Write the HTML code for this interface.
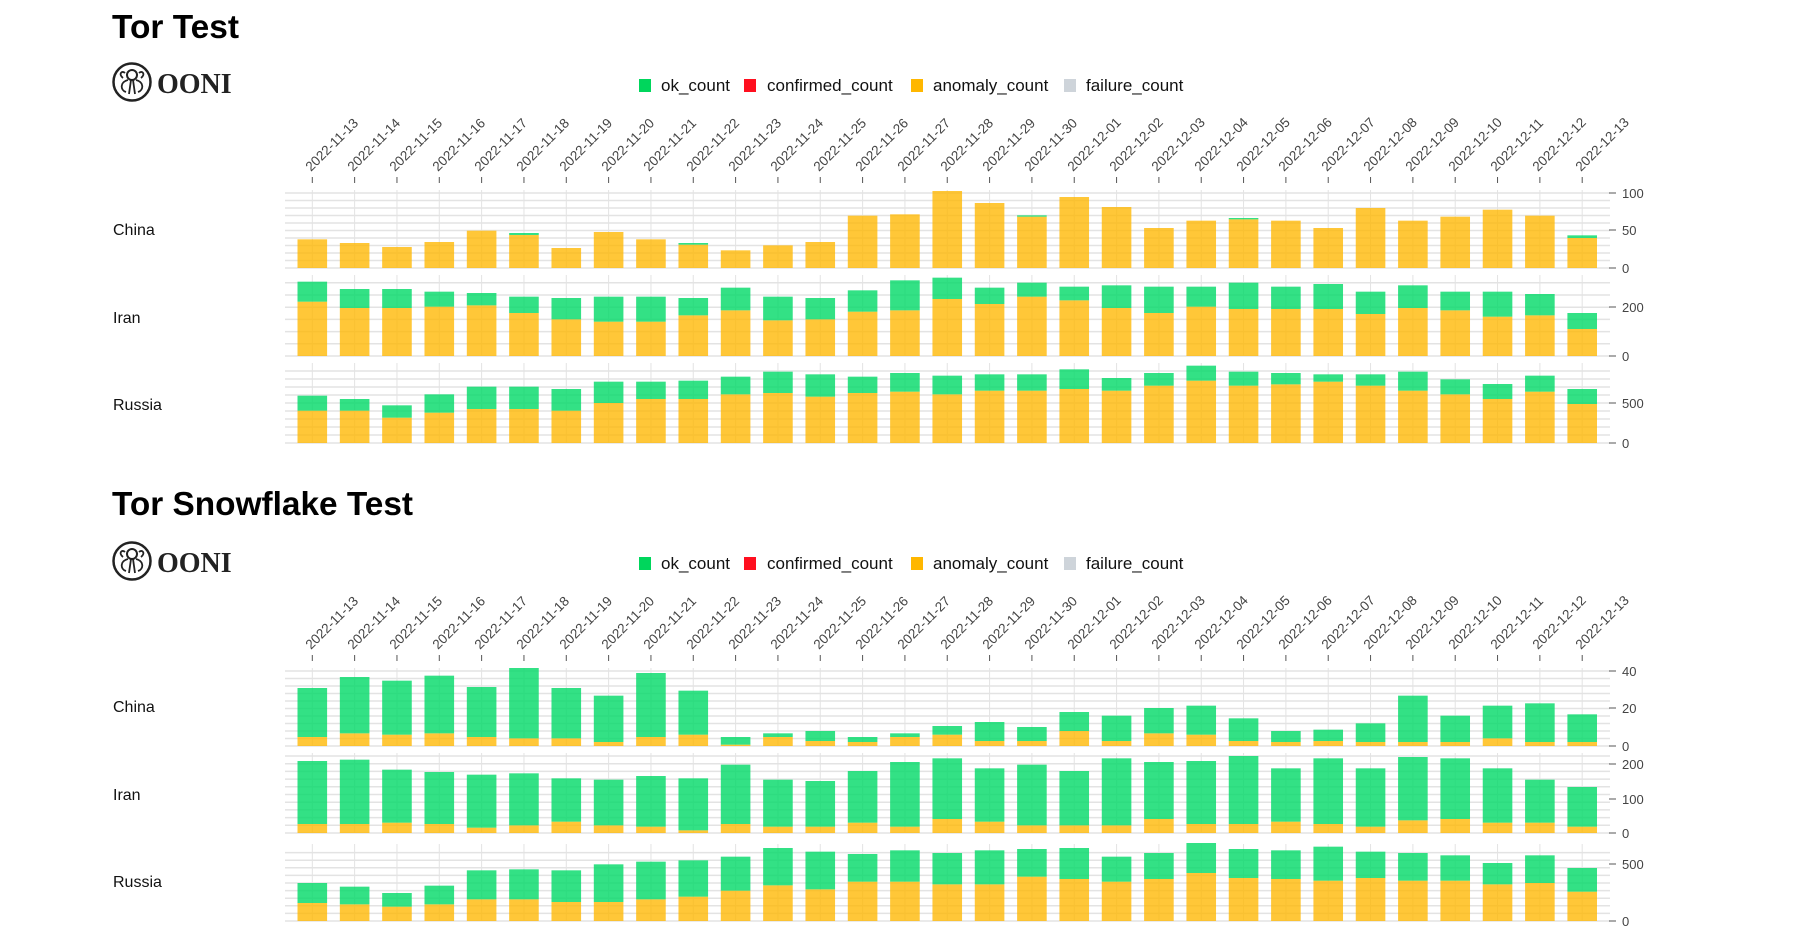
<!DOCTYPE html>
<html><head><meta charset="utf-8"><style>
html,body{margin:0;padding:0;background:#fff;}
svg{display:block;font-family:"Liberation Sans",sans-serif;}
.t{font-weight:bold;font-size:33px;fill:#000;}
.ooni{font-family:"Liberation Serif",serif;font-weight:bold;font-size:28px;fill:#222;}
.lg{font-size:17px;fill:#111;}
.cn{font-size:16px;fill:#111;}
.dt{font-size:13.5px;fill:#444;}
.yt{font-size:13px;fill:#444;}
</style></head><body>
<svg id="s" width="1805" height="945" viewBox="0 0 1805 945" xmlns="http://www.w3.org/2000/svg">
<g id="grid"></g>
<g id="bars"></g>
<text class="t" x="112" y="38" textLength="127" lengthAdjust="spacingAndGlyphs">Tor Test</text>
<g transform="translate(132,82)">
<circle r="18.5" fill="none" stroke="#222" stroke-width="2.5"/>
<circle cx="0" cy="-7" r="5" fill="none" stroke="#222" stroke-width="2"/>
<path d="M-4 -2 C-12 0 -12 8 -6 10 M4 -2 C12 0 12 8 6 10 M-1 -2 L-3 12 M1 -2 L3 12 M-9 -4 C-14 -8 -10 -12 -7 -9 M9 -4 C14 -8 10 -12 7 -9" fill="none" stroke="#222" stroke-width="1.8"/>
</g>
<text class="ooni" x="157" y="93">OONI</text>
<rect x="639" y="79" width="12" height="13" fill="#00d65c"/><text class="lg" x="661" y="91">ok_count</text>
<rect x="744" y="79" width="12" height="13" fill="#ff0f1f"/><text class="lg" x="767" y="91">confirmed_count</text>
<rect x="911" y="79" width="12" height="13" fill="#ffb700"/><text class="lg" x="933" y="91">anomaly_count</text>
<rect x="1064" y="79" width="12" height="13" fill="#ced4da"/><text class="lg" x="1086" y="91">failure_count</text>
<text class="cn" x="113" y="235">China</text>
<text class="cn" x="113" y="323">Iran</text>
<text class="cn" x="113" y="410">Russia</text>
<g class="yt">
<text x="1622" y="198">100</text><text x="1622" y="235">50</text><text x="1622" y="273">0</text>
<text x="1622" y="312">200</text><text x="1622" y="361">0</text>
<text x="1622" y="408">500</text><text x="1622" y="448">0</text>
</g>
<text class="t" x="112" y="515" textLength="301" lengthAdjust="spacingAndGlyphs">Tor Snowflake Test</text>
<g transform="translate(132,561)">
<circle r="18.5" fill="none" stroke="#222" stroke-width="2.5"/>
<circle cx="0" cy="-7" r="5" fill="none" stroke="#222" stroke-width="2"/>
<path d="M-4 -2 C-12 0 -12 8 -6 10 M4 -2 C12 0 12 8 6 10 M-1 -2 L-3 12 M1 -2 L3 12 M-9 -4 C-14 -8 -10 -12 -7 -9 M9 -4 C14 -8 10 -12 7 -9" fill="none" stroke="#222" stroke-width="1.8"/>
</g>
<text class="ooni" x="157" y="572">OONI</text>
<rect x="639" y="557" width="12" height="13" fill="#00d65c"/><text class="lg" x="661" y="569">ok_count</text>
<rect x="744" y="557" width="12" height="13" fill="#ff0f1f"/><text class="lg" x="767" y="569">confirmed_count</text>
<rect x="911" y="557" width="12" height="13" fill="#ffb700"/><text class="lg" x="933" y="569">anomaly_count</text>
<rect x="1064" y="557" width="12" height="13" fill="#ced4da"/><text class="lg" x="1086" y="569">failure_count</text>
<text class="cn" x="113" y="712">China</text>
<text class="cn" x="113" y="800">Iran</text>
<text class="cn" x="113" y="887">Russia</text>
<g class="yt">
<text x="1622" y="676">40</text><text x="1622" y="713">20</text><text x="1622" y="751">0</text>
<text x="1622" y="769">200</text><text x="1622" y="804">100</text><text x="1622" y="838">0</text>
<text x="1622" y="869">500</text><text x="1622" y="926">0</text>
</g>
<g class="dt" id="d1">
<text transform="translate(311,172) rotate(-45)">2022-11-13</text>
<text transform="translate(353,172) rotate(-45)">2022-11-14</text>
<text transform="translate(395,172) rotate(-45)">2022-11-15</text>
<text transform="translate(438,172) rotate(-45)">2022-11-16</text>
<text transform="translate(480,172) rotate(-45)">2022-11-17</text>
<text transform="translate(522,172) rotate(-45)">2022-11-18</text>
<text transform="translate(565,172) rotate(-45)">2022-11-19</text>
<text transform="translate(607,172) rotate(-45)">2022-11-20</text>
<text transform="translate(649,172) rotate(-45)">2022-11-21</text>
<text transform="translate(692,172) rotate(-45)">2022-11-22</text>
<text transform="translate(734,172) rotate(-45)">2022-11-23</text>
<text transform="translate(776,172) rotate(-45)">2022-11-24</text>
<text transform="translate(819,172) rotate(-45)">2022-11-25</text>
<text transform="translate(861,172) rotate(-45)">2022-11-26</text>
<text transform="translate(903,172) rotate(-45)">2022-11-27</text>
<text transform="translate(946,172) rotate(-45)">2022-11-28</text>
<text transform="translate(988,172) rotate(-45)">2022-11-29</text>
<text transform="translate(1030,172) rotate(-45)">2022-11-30</text>
<text transform="translate(1073,172) rotate(-45)">2022-12-01</text>
<text transform="translate(1115,172) rotate(-45)">2022-12-02</text>
<text transform="translate(1157,172) rotate(-45)">2022-12-03</text>
<text transform="translate(1200,172) rotate(-45)">2022-12-04</text>
<text transform="translate(1242,172) rotate(-45)">2022-12-05</text>
<text transform="translate(1284,172) rotate(-45)">2022-12-06</text>
<text transform="translate(1327,172) rotate(-45)">2022-12-07</text>
<text transform="translate(1369,172) rotate(-45)">2022-12-08</text>
<text transform="translate(1411,172) rotate(-45)">2022-12-09</text>
<text transform="translate(1454,172) rotate(-45)">2022-12-10</text>
<text transform="translate(1496,172) rotate(-45)">2022-12-11</text>
<text transform="translate(1538,172) rotate(-45)">2022-12-12</text>
<text transform="translate(1581,172) rotate(-45)">2022-12-13</text>
</g>
<g class="dt" transform="translate(0,478)">
<text transform="translate(311,172) rotate(-45)">2022-11-13</text>
<text transform="translate(353,172) rotate(-45)">2022-11-14</text>
<text transform="translate(395,172) rotate(-45)">2022-11-15</text>
<text transform="translate(438,172) rotate(-45)">2022-11-16</text>
<text transform="translate(480,172) rotate(-45)">2022-11-17</text>
<text transform="translate(522,172) rotate(-45)">2022-11-18</text>
<text transform="translate(565,172) rotate(-45)">2022-11-19</text>
<text transform="translate(607,172) rotate(-45)">2022-11-20</text>
<text transform="translate(649,172) rotate(-45)">2022-11-21</text>
<text transform="translate(692,172) rotate(-45)">2022-11-22</text>
<text transform="translate(734,172) rotate(-45)">2022-11-23</text>
<text transform="translate(776,172) rotate(-45)">2022-11-24</text>
<text transform="translate(819,172) rotate(-45)">2022-11-25</text>
<text transform="translate(861,172) rotate(-45)">2022-11-26</text>
<text transform="translate(903,172) rotate(-45)">2022-11-27</text>
<text transform="translate(946,172) rotate(-45)">2022-11-28</text>
<text transform="translate(988,172) rotate(-45)">2022-11-29</text>
<text transform="translate(1030,172) rotate(-45)">2022-11-30</text>
<text transform="translate(1073,172) rotate(-45)">2022-12-01</text>
<text transform="translate(1115,172) rotate(-45)">2022-12-02</text>
<text transform="translate(1157,172) rotate(-45)">2022-12-03</text>
<text transform="translate(1200,172) rotate(-45)">2022-12-04</text>
<text transform="translate(1242,172) rotate(-45)">2022-12-05</text>
<text transform="translate(1284,172) rotate(-45)">2022-12-06</text>
<text transform="translate(1327,172) rotate(-45)">2022-12-07</text>
<text transform="translate(1369,172) rotate(-45)">2022-12-08</text>
<text transform="translate(1411,172) rotate(-45)">2022-12-09</text>
<text transform="translate(1454,172) rotate(-45)">2022-12-10</text>
<text transform="translate(1496,172) rotate(-45)">2022-12-11</text>
<text transform="translate(1538,172) rotate(-45)">2022-12-12</text>
<text transform="translate(1581,172) rotate(-45)">2022-12-13</text>
</g>
</svg>
<script>
(function(){
var NS="http://www.w3.org/2000/svg";
var grid=document.getElementById("grid"),bars=document.getElementById("bars");
function el(p,tag,a){var e=document.createElementNS(NS,tag);for(var k in a)e.setAttribute(k,a[k]);p.appendChild(e);return e;}
var X0=285,X1=1610;
function cx(i){return 312.3+i*42.33;}
var panels=[
 [193,268,7.5,[193,230,268]],[278,356,12.2,[307,356]],[366,443,8,[403,443]],
 [671,746,7.5,[671,708,746]],[756,833,7.7,[764,799,833]],[847,921,7.6,[864,921]]
];
panels.forEach(function(p){
 for(var y=p[1];y>=p[0]-0.5;y-=p[2]) el(grid,"line",{x1:X0,x2:X1,y1:y.toFixed(1),y2:y.toFixed(1),stroke:"#e3e3e3","stroke-width":1.5});
 for(var i=0;i<31;i++) el(grid,"line",{x1:cx(i),x2:cx(i),y1:p[0]-3,y2:p[1],stroke:"#e3e3e3","stroke-width":1});
 p[3].forEach(function(y){el(grid,"line",{x1:1609,x2:1616,y1:y,y2:y,stroke:"#555","stroke-width":1});});
});
[177,655].forEach(function(t){for(var i=0;i<31;i++) el(grid,"line",{x1:cx(i),x2:cx(i),y1:t,y2:t+6,stroke:"#555","stroke-width":1});});
function series(off,base,ok,an){
 for(var i=0;i<31;i++){
  var a=off+an[i]/3,o=off+ok[i]/3,x=cx(i)-14.8;
  el(bars,"rect",{x:x,y:a,width:29.6,height:base-a,fill:"#ffb700","fill-opacity":0.78});
  if(o<a-0.3) el(bars,"rect",{x:x,y:o,width:29.6,height:a-o,fill:"#00d966","fill-opacity":0.8});
 }
}
var C1a=[718,729,741,726,692,705,744,696,718,734,751,736,726,647,643,573,609,650,591,621,684,662,658,662,684,624,662,650,629,647,714];
var C1o=C1a.slice();C1o[5]=699;C1o[9]=729;C1o[17]=646;C1o[22]=654;C1o[30]=706;
series(0,268,C1o,C1a);
series(0,356,[845,867,867,875,879,890,894,890,890,894,863,890,894,871,841,833,863,848,860,856,860,860,848,860,852,875,856,875,875,882,939],
 [905,924,924,920,916,939,958,965,965,946,931,961,958,935,931,897,912,890,901,924,939,920,927,927,927,942,924,931,950,946,987]);
series(0,443,[1187,1197,1216,1183,1160,1160,1167,1145,1145,1142,1130,1115,1123,1130,1119,1127,1123,1123,1108,1134,1119,1097,1115,1119,1123,1123,1115,1138,1152,1127,1167],
 [1232,1232,1253,1238,1227,1227,1232,1209,1197,1197,1183,1179,1190,1179,1175,1183,1172,1172,1167,1172,1157,1142,1157,1153,1145,1157,1172,1183,1197,1175,1212]);
series(470,746,[654,621,632,617,651,594,654,677,609,662,801,790,783,801,790,768,756,771,726,737,714,707,745,783,779,760,677,737,707,700,733],
 [801,790,794,790,801,805,805,816,801,794,824,801,813,816,801,794,813,813,783,813,790,794,813,816,813,816,816,816,805,816,816]);
series(470,833,[873,869,899,906,914,910,925,929,918,925,884,929,933,903,876,865,895,884,903,865,876,873,858,895,865,895,861,865,895,929,951],
 [1062,1062,1058,1062,1073,1066,1055,1066,1070,1081,1062,1070,1070,1058,1070,1047,1055,1066,1066,1066,1047,1062,1062,1055,1062,1070,1051,1047,1058,1058,1070]);
series(470,921,[1239,1250,1269,1247,1201,1198,1201,1183,1175,1171,1160,1134,1145,1152,1141,1149,1141,1137,1134,1160,1149,1119,1137,1141,1130,1145,1149,1156,1179,1156,1194],
 [1299,1303,1310,1303,1288,1288,1296,1296,1288,1280,1262,1246,1258,1235,1235,1243,1243,1220,1227,1235,1227,1209,1224,1227,1232,1224,1232,1232,1243,1239,1265]);
})();
</script>
</body></html>
